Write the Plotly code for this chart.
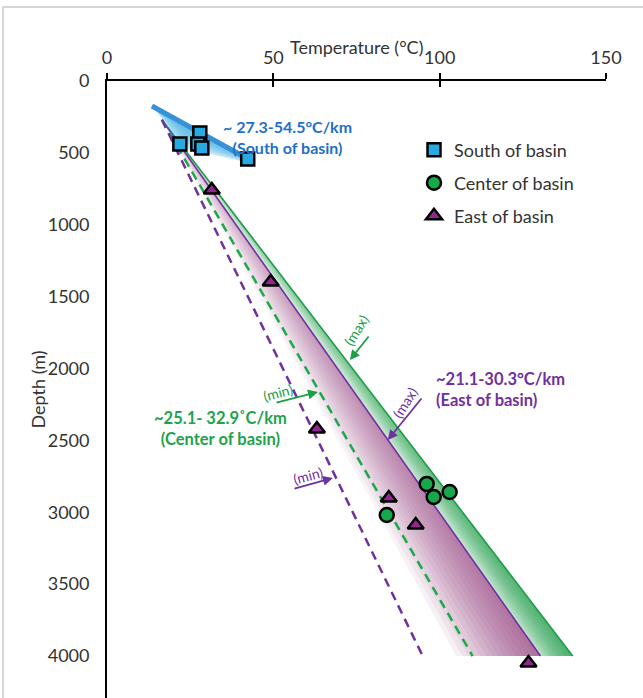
import plotly.graph_objects as go

# ---------------- data ----------------
south_T = [27.9, 21.9, 27.3, 28.5, 42.3]
south_D = [362, 438, 438, 466, 543]
center_T = [96.1, 98.2, 103.0, 84.1]
center_D = [2803, 2894, 2859, 3019]
east_T = [31.5, 49.2, 63.1, 84.7, 92.8, 126.7]
east_D = [758, 1398, 2421, 2901, 3089, 4049]

# gradient lines (start / end points)
line_D = [270, 4000]
center_max_T = [16.5, 140.0]
center_min_T = [16.5, 109.9]
east_max_T = [16.5, 130.3]
east_min_T = [16.5, 94.9]
east_fill_edge_T = [16.5, 105.0]

# south-of-basin wedge
south_top_T = [13.5, 40.8]
south_top_D = [174, 522]
south_low_T = [13.5, 16.8, 21.3, 40.8]
south_low_D = [174, 271, 459, 560]
south_low_frac = [0.0, 0.158, 0.41, 1.0]

x_ticks = [0, 50, 100, 150]
y_ticks = [0, 500, 1000, 1500, 2000, 2500, 3000, 3500, 4000]

FONT = "Lato"
PURPLE = "#7030A0"
GREEN = "#1E9E48"
BLUE_TXT = "#1F6FC6"

fig = go.Figure()


def layered(left_T, left_D, right_T, right_D, rgb, alphas, g0=None, g1=None, lo=1.0):
    n = len(alphas)
    for k, a in enumerate(alphas):
        s = k / n
        lt = [l + s * (r - l) for l, r in zip(left_T, right_T)]
        ld = [l + s * (r - l) for l, r in zip(left_D, right_D)]
        xs = lt + right_T[::-1] + [lt[0]]
        ys = ld + right_D[::-1] + [ld[0]]
        kw = {}
        if g0 is not None:
            kw["fillgradient"] = dict(
                type="horizontal", start=g0, stop=g1,
                colorscale=[[0, f"rgba({rgb},{a * lo:.3f})"], [1, f"rgba({rgb},{a:.3f})"]],
            )
        else:
            kw["fillcolor"] = f"rgba({rgb},{a:.3f})"
        fig.add_trace(go.Scatter(x=xs, y=ys, mode="lines", line=dict(width=0),
                                 fill="toself", hoverinfo="skip", showlegend=False, **kw))


# east (pink) band: fades from the fill edge toward the max line
layered(east_fill_edge_T, line_D, east_max_T, line_D, "150,70,130",
        [0.10] * 14, g0=15, g1=132, lo=0.25)
# center (green) band
layered(east_max_T, line_D, center_max_T, line_D, "40,160,80",
        [0.35] + [0.12] * 10, g0=15, g1=140, lo=0.25)

# gradient lines
fig.add_trace(go.Scatter(x=center_max_T, y=line_D, mode="lines",
                         line=dict(color="#1E9E48", width=1.6), hoverinfo="skip", showlegend=False))
fig.add_trace(go.Scatter(x=east_max_T, y=line_D, mode="lines",
                         line=dict(color=PURPLE, width=1.6), hoverinfo="skip", showlegend=False))
fig.add_trace(go.Scatter(x=center_min_T, y=line_D, mode="lines",
                         line=dict(color="#1EA84A", width=2.5, dash="9px,6px"), hoverinfo="skip", showlegend=False))
fig.add_trace(go.Scatter(x=east_min_T, y=line_D, mode="lines",
                         line=dict(color=PURPLE, width=2.5, dash="9px,6px"), hoverinfo="skip", showlegend=False))

# south wedge
right_T = [south_top_T[0] + f * (south_top_T[1] - south_top_T[0]) for f in south_low_frac]
right_D = [south_top_D[0] + f * (south_top_D[1] - south_top_D[0]) for f in south_low_frac]
layered(south_low_T, south_low_D, right_T, right_D, "40,165,230", [0.22] + [0.10] * 10)
fig.add_trace(go.Scatter(x=south_top_T, y=south_top_D, mode="lines",
                         line=dict(color="rgb(55,145,215)", width=5), hoverinfo="skip", showlegend=False))

# markers
fig.add_trace(go.Scatter(x=south_T, y=south_D, mode="markers", name="South of basin",
                         marker=dict(symbol="square", size=13, color="#27AAE1",
                                     line=dict(color="black", width=2.5)), legend="legend"))
fig.add_trace(go.Scatter(x=center_T, y=center_D, mode="markers", name="Center of basin",
                         marker=dict(symbol="circle", size=14, color="#16A84A",
                                     line=dict(color="black", width=2.5)), legend="legend2"))
fig.add_trace(go.Scatter(x=east_T, y=east_D, mode="markers", name="East of basin",
                         marker=dict(symbol="triangle-up", size=14, color="#92278F",
                                     line=dict(color="black", width=2.5)), legend="legend3"))

# invisible trace for secondary (inside ticks) axis
fig.add_trace(go.Scatter(x=[0], y=[0], xaxis="x2", mode="markers", marker=dict(opacity=0),
                         hoverinfo="skip", showlegend=False))

ann = []
# text labels
ann.append(dict(x=54.4, y=388, xref="x", yref="y", showarrow=False,
                text="~ 27.3-54.5°C/km<br>(South of basin)",
                font=dict(family=FONT, size=16, color=BLUE_TXT, weight="bold")))
ann.append(dict(x=98.2, y=2149, xref="x", yref="y", showarrow=False, xanchor="left",
                align="left", text="~21.1-30.3°C/km<br>(East of basin)",
                font=dict(family=FONT, size=16.5, color=PURPLE, weight="bold")))
ann.append(dict(x=34.2, y=2414, xref="x", yref="y", showarrow=False,
                text="~25.1- 32.9˚C/km<br>(Center of basin)",
                font=dict(family=FONT, size=16.5, color="#22A24C", weight="bold")))

# arrows (head at x,y ; tail at ax,ay)
arrows = [
    (73.0, 1941, 79.0, 1767, "#1E9E48"),
    (63.4, 2163, 50.5, 2240, "#1E9E48"),
    (84.4, 2497, 94.9, 2198, PURPLE),
    (67.9, 2762, 55.9, 2838, PURPLE),
]
for hx, hy, tx, ty, c in arrows:
    ann.append(dict(x=hx, y=hy, ax=tx, ay=ty, xref="x", yref="y", axref="x", ayref="y",
                    text="", showarrow=True, arrowhead=2, arrowsize=1.1, arrowwidth=1.8, arrowcolor=c))
labels = [
    (75.1, 1732, "(max)", -58, "#1E9E48"),
    (51.4, 2165, "(min)", -15, "#1E9E48"),
    (89.5, 2233, "(max)", -58, PURPLE),
    (60.4, 2741, "(min)", -15, PURPLE),
]
for x, y, t, ang, c in labels:
    ann.append(dict(x=x, y=y, xref="x", yref="y", showarrow=False, text=t, textangle=ang,
                    font=dict(family=FONT, size=14, color=c)))

# axis titles
ann.append(dict(x=0.5, y=(698 - 47) / 617, xref="paper", yref="paper", showarrow=False,
                xanchor="center", yanchor="middle",
                text="Temperature (°C)", font=dict(family=FONT, size=18, color="#333333")))
ann.append(dict(x=(37 - 107) / 499, y=0.5, xref="paper", yref="paper", showarrow=False,
                xanchor="center", yanchor="middle",
                text="Depth (m)", textangle=-90, font=dict(family=FONT, size=18, color="#333333")))

legend_common = dict(font=dict(family=FONT, size=18, color="#333333"), bgcolor="rgba(0,0,0,0)",
                     xanchor="left", yanchor="middle", itemwidth=30)
lx = (414 - 107) / 499

fig.update_layout(
    width=643, height=698,
    margin=dict(l=107, r=37, t=81, b=0),
    paper_bgcolor="white", plot_bgcolor="white",
    showlegend=True,
    xaxis=dict(range=[0, 150], side="top", tickvals=x_ticks, ticks="outside", ticklen=6,
               tickwidth=1.5, tickcolor="black", showline=True, linecolor="black", linewidth=1.8,
               showgrid=False, zeroline=False, ticklabelstandoff=2,
               tickfont=dict(family=FONT, size=18, color="#333333")),
    xaxis2=dict(overlaying="x", matches="x", side="top", anchor="y", tickvals=x_ticks,
                ticks="inside", ticklen=6, tickwidth=1.5, tickcolor="black",
                showticklabels=False, showline=False, showgrid=False, zeroline=False),
    yaxis=dict(range=[4292, 0], tickvals=y_ticks, ticks="outside", ticklen=12,
               tickcolor="rgba(0,0,0,0)", showline=True, linecolor="black", linewidth=1.8,
               showgrid=False, zeroline=False,
               tickfont=dict(family=FONT, size=18, color="#333333")),
    legend=dict(x=lx, y=(698 - 150) / 617, **legend_common),
    legend2=dict(x=lx, y=(698 - 183) / 617, **legend_common),
    legend3=dict(x=lx, y=(698 - 216) / 617, **legend_common),
    annotations=ann,
    shapes=[dict(type="rect", xref="paper", yref="paper", x0=(3 - 107) / 499, x1=1.2,
                 y0=-0.2, y1=(698 - 7) / 617, line=dict(color="#c8c8c8", width=1.5),
                 layer="below")],
)

fig.write_html("out.html")
